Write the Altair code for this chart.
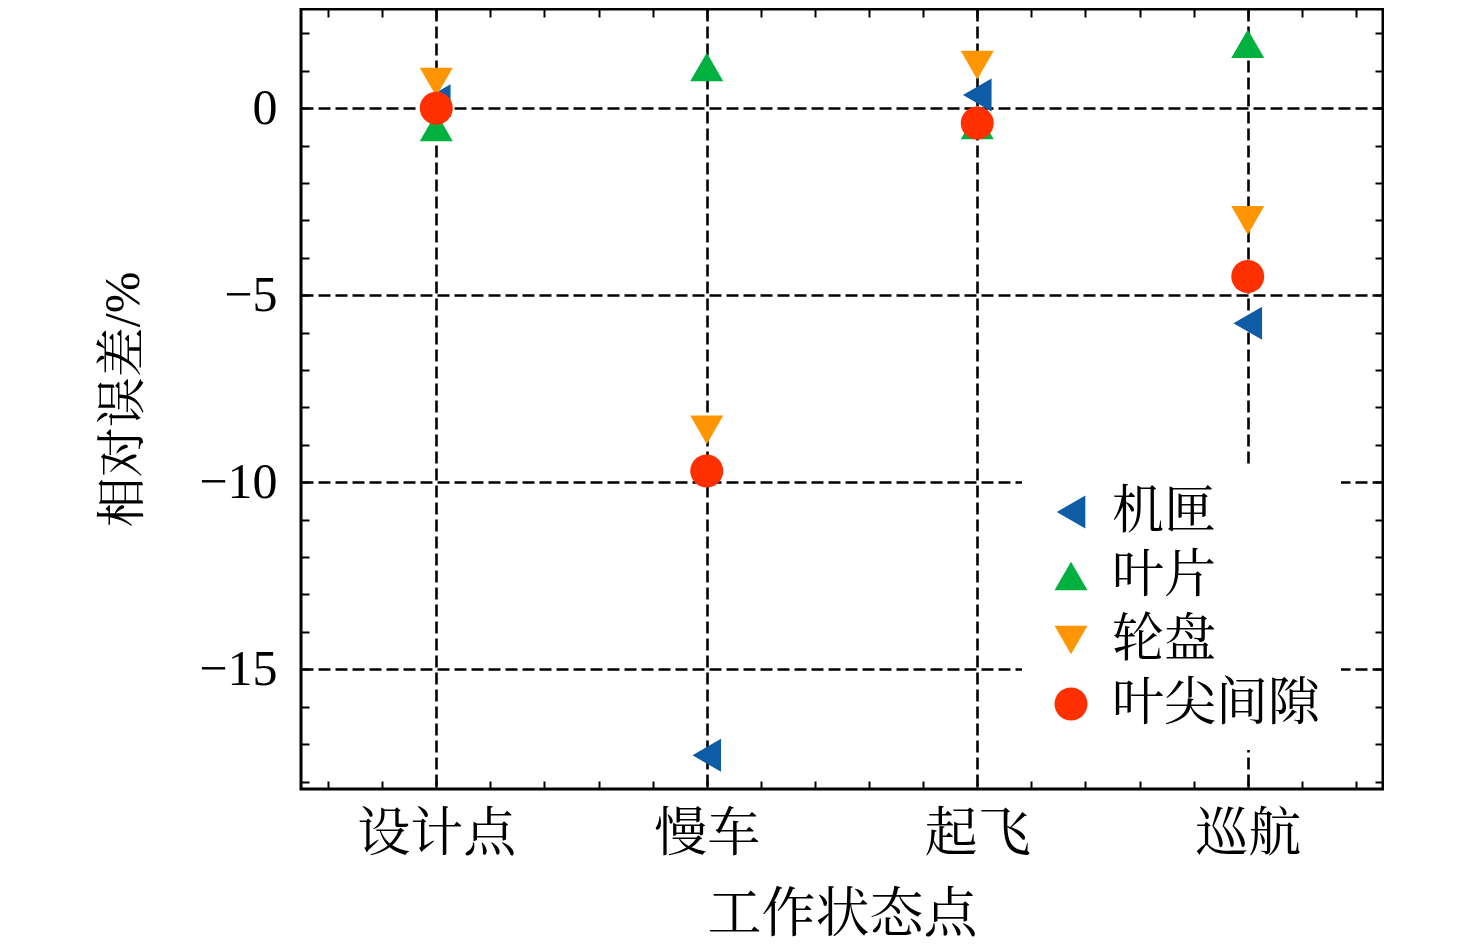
import json
import altair as alt
import pandas as pd

categories = ["设计点", "慢车", "起飞", "巡航"]
series = ["机匣", "叶片", "轮盘", "叶尖间隙"]
casing = [0.2, -17.3, 0.35, -5.75]
blade = [-0.5, 1.1, -0.45, 1.72]
disk = [0.7, -8.6, 1.15, -3.0]
clearance = [0.0, -9.7, -0.4, -4.5]

colors = ["#0F5CA6", "#00B140", "#FF9500", "#FF3000"]
shapes = ["triangle-left", "triangle-up", "triangle-down", "circle"]

x_ticks = [round(0.6 + 0.2 * i, 1) for i in range(20)]
y_ticks = list(range(-18, 3))

rows = []
for s, vals in zip(series, [casing, blade, disk, clearance]):
    for i, (c, v) in enumerate(zip(categories, vals)):
        rows.append({"series": s, "cat": c, "idx": i + 1, "value": v})
df = pd.DataFrame(rows)

FONT = "Liberation Serif, Noto Serif CJK SC, Noto Sans CJK SC"
cat_arr = json.dumps(categories, ensure_ascii=False)
is_int_x = "abs(datum.value - round(datum.value)) < 0.01"
is_major_y = "abs(datum.value % 5) < 0.01"

xscale = alt.Scale(domain=[0.5, 4.5], nice=False, zero=False)
yscale = alt.Scale(domain=[-18.2, 2.65], nice=False, zero=False)

grid_common = dict(gridColor="black", gridWidth=2.6, gridDash=[12, 5])

x_bottom = alt.Axis(
    orient="bottom", values=x_ticks, title="工作状态点",
    labelExpr=f"{is_int_x} ? {cat_arr}[round(datum.value) - 1] : ''",
    labelFont=FONT, labelFontSize=53, labelColor="black", labelPadding=27,
    titleFont=FONT, titleFontSize=54, titleFontWeight="normal", titleColor="black",
    titlePadding=27,
    tickSize={"expr": "-8"}, tickWidth=2, tickColor="black",
    domain=False, grid=True,
    gridOpacity={"condition": {"test": is_int_x, "value": 1}, "value": 0},
    labelFlush=False, labelOverlap=False,
    **grid_common,
)
y_left = alt.Axis(
    orient="left", values=y_ticks, title="相对误差/%",
    labelExpr=f"{is_major_y} ? format(datum.value, 'd') : ''",
    labelFont=FONT, labelFontSize=50, labelColor="black", labelPadding=32,
    titleFont=FONT, titleFontSize=50, titleFontWeight="normal", titleColor="black",
    titlePadding=50,
    tickSize={"expr": "-8"}, tickWidth=2, tickColor="black",
    domain=False, grid=True,
    gridOpacity={"condition": {"test": is_major_y, "value": 1}, "value": 0},
    labelFlush=False, labelOverlap=False,
    **grid_common,
)
x_top = alt.Axis(orient="top", values=x_ticks, title=None, labels=False,
                 tickSize={"expr": "-8"}, tickWidth=2, tickColor="black",
                 domain=False, grid=False)
y_right = alt.Axis(orient="right", values=y_ticks, title=None, labels=False,
                   tickSize={"expr": "-8"}, tickWidth=2, tickColor="black",
                   domain=False, grid=False)

points = alt.Chart(df).mark_point(filled=True, opacity=1, size=1089).encode(
    x=alt.X("idx:Q", scale=xscale, axis=x_bottom),
    y=alt.Y("value:Q", scale=yscale, axis=y_left),
    color=alt.Color("series:N", scale=alt.Scale(domain=series, range=colors),
                    sort=series,
                    legend=alt.Legend(
                        title=None, orient="none", legendX=721, legendY=457,
                        fillColor="white", padding=20, symbolOffset=3,
                        labelFont=FONT, labelFontSize=52, labelColor="black",
                        symbolSize=1089, symbolStrokeWidth=0, labelOffset=15,
                        rowPadding=12, symbolOpacity=1, labelLimit=1000,
                    )),
    shape=alt.Shape("series:N", scale=alt.Scale(domain=series, range=shapes),
                    sort=series),
    order=alt.Order("order:Q"),
).transform_calculate(
    order=f"indexof({json.dumps(series, ensure_ascii=False)}, datum.series)"
)

mirror = alt.Chart(df).mark_point(opacity=0).encode(
    x=alt.X("idx:Q", scale=xscale, axis=x_top),
    y=alt.Y("value:Q", scale=yscale, axis=y_right),
)

chart = alt.layer(points, mirror).resolve_axis(
    x="independent", y="independent"
).properties(
    width=1082, height=780,
    padding={"left": 90, "top": 0, "right": 0, "bottom": 0},
    background="white",
).configure_view(
    stroke="black", strokeWidth=3
)

chart.save("out.html", embed_options={"renderer": "svg", "actions": False})
